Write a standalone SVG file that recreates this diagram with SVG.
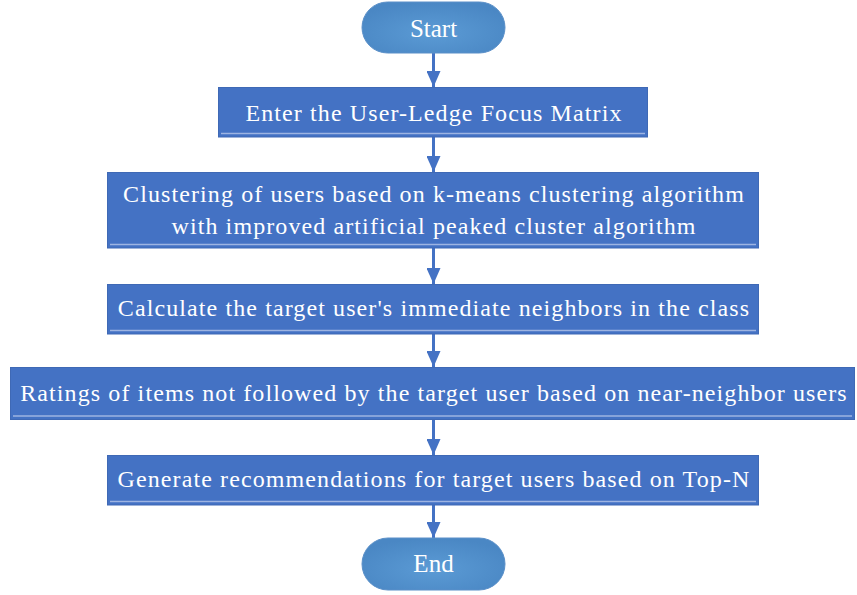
<svg xmlns="http://www.w3.org/2000/svg" width="857" height="595" viewBox="0 0 857 595">
  <defs>
    <radialGradient id="pillFill" cx="50%" cy="60%" r="60%">
      <stop offset="0" stop-color="#5b9bd5"/>
      <stop offset="1" stop-color="#4a87c4"/>
    </radialGradient>
    <marker id="arrow" viewBox="0 0 16 14" refX="16" refY="7" markerWidth="16" markerHeight="14" markerUnits="userSpaceOnUse" orient="auto">
      <path d="M0,0 L16,7 L0,14 Z" fill="#4472c4"/>
    </marker>
  </defs>
  <style>
    .pill { fill: url(#pillFill); stroke: #5a8fc8; stroke-width: 1; }
    .box { fill: #4472c4; stroke: #3f69b5; stroke-width: 1; }
    .shine { stroke: #9db4e2; stroke-width: 1.5; }
    .label { font-family: "Liberation Serif", "Times New Roman", serif; font-size: 24px; letter-spacing: 1.1px; fill: #ffffff; text-anchor: middle; }
    .term { font-family: "Liberation Serif", "Times New Roman", serif; font-size: 25px; fill: #ffffff; text-anchor: middle; }
    .link { stroke: #4472c4; stroke-width: 3; fill: none; marker-end: url(#arrow); }
  </style>

  <g id="connectors">
    <line class="link" x1="433.5" y1="53" x2="433.5" y2="87"/>
    <line class="link" x1="433.5" y1="137" x2="433.5" y2="172"/>
    <line class="link" x1="433.5" y1="248" x2="433.5" y2="284"/>
    <line class="link" x1="433.5" y1="334" x2="433.5" y2="367"/>
    <line class="link" x1="433.5" y1="420" x2="433.5" y2="455"/>
    <line class="link" x1="433.5" y1="505" x2="433.5" y2="538"/>
  </g>

  <g id="start">
    <rect class="pill" x="362" y="2" width="143" height="51" rx="25.5" ry="25.5"/>
    <text class="term" x="433.5" y="36.5">Start</text>
  </g>

  <g id="step-input">
    <rect class="box" x="218.5" y="87.5" width="429" height="49.5"/>
    <line class="shine" x1="221" y1="133.5" x2="645" y2="133.5"/>
    <text class="label" x="434" y="120.5">Enter the User-Ledge Focus Matrix</text>
  </g>

  <g id="step-cluster">
    <rect class="box" x="107.5" y="172.5" width="651" height="75.5"/>
    <line class="shine" x1="110" y1="244.5" x2="756" y2="244.5"/>
    <text class="label" x="434" y="202">Clustering of users based on k-means clustering algorithm</text>
    <text class="label" x="434" y="234">with improved artificial peaked cluster algorithm</text>
  </g>

  <g id="step-neighbors">
    <rect class="box" x="107.5" y="284.5" width="651" height="49.5"/>
    <line class="shine" x1="110" y1="330.5" x2="756" y2="330.5"/>
    <text class="label" x="434" y="316">Calculate the target user's immediate neighbors in the class</text>
  </g>

  <g id="step-ratings">
    <rect class="box" x="10.5" y="367.5" width="844" height="52"/>
    <line class="shine" x1="13" y1="416" x2="852" y2="416"/>
    <text class="label" x="434" y="401">Ratings of items not followed by the target user based on near-neighbor users</text>
  </g>

  <g id="step-recommend">
    <rect class="box" x="107.5" y="455.5" width="651" height="49.5"/>
    <line class="shine" x1="110" y1="501.5" x2="756" y2="501.5"/>
    <text class="label" x="434" y="487">Generate recommendations for target users based on Top-N</text>
  </g>

  <g id="end">
    <rect class="pill" x="362" y="538" width="143" height="52" rx="26" ry="26"/>
    <text class="term" x="433.5" y="571.5">End</text>
  </g>
</svg>
